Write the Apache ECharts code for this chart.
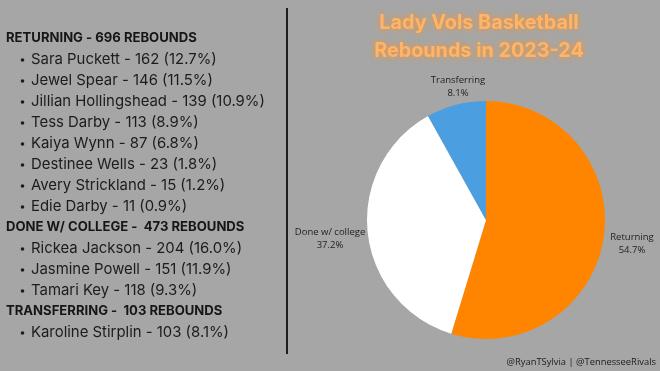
<!DOCTYPE html>
<html><head><meta charset="utf-8">
<script src="https://cdn.jsdelivr.net/npm/echarts@6/dist/echarts.min.js"></script>
<style>html,body{margin:0;padding:0;background:#a6a6a6;}#c{width:660px;height:371px;}</style>
</head><body><div id="c"></div>
<script>
const groupNames = ['RETURNING', 'DONE W/ COLLEGE', 'TRANSFERRING'];
const groupSep = [' - ', ' -  ', ' -  '];
const pieLabels = ['Returning', 'Done w/ college', 'Transferring'];
const returningPlayers = ['Sara Puckett', 'Jewel Spear', 'Jillian Hollingshead', 'Tess Darby', 'Kaiya Wynn', 'Destinee Wells', 'Avery Strickland', 'Edie Darby'];
const returningValues = [162, 146, 139, 113, 87, 23, 15, 11];
const donePlayers = ['Rickea Jackson', 'Jasmine Powell', 'Tamari Key'];
const doneValues = [204, 151, 118];
const transferPlayers = ['Karoline Stirplin'];
const transferValues = [103];
const pieColors = ['#ff8500', '#ffffff', '#4b9fe0'];

const groups = [[returningPlayers, returningValues], [donePlayers, doneValues], [transferPlayers, transferValues]];
const sum = a => a.reduce((s, v) => s + v, 0);
const groupTotals = groups.map(g => sum(g[1]));
const grand = sum(groupTotals);

const graphics = [];
let y = 38.5;
const step = 21.0;
groups.forEach((g, gi) => {
  graphics.push({type: 'text', x: 6, y: y, style: {text: groupNames[gi] + groupSep[gi] + groupTotals[gi] + ' REBOUNDS', font: 'bold 13.1px Inter', fill: '#161616', verticalAlign: 'middle'}});
  y += step;
  g[0].forEach((name, i) => {
    const v = g[1][i];
    graphics.push({type: 'circle', shape: {cx: 22.5, cy: y + 0.5, r: 1.8}, style: {fill: '#1c1c1c'}});
    graphics.push({type: 'text', x: 31, y: y, style: {text: name + ' - ' + v + ' (' + (v / grand * 100).toFixed(1) + '%)', font: '14.9px Inter', fill: '#1c1c1c', verticalAlign: 'middle'}});
    y += step;
  });
});
graphics.push({type: 'line', shape: {x1: 287, y1: 8, x2: 287, y2: 354}, style: {stroke: '#1e1e1e', lineWidth: 2}});
graphics.push({type: 'text', x: 656, y: 362, style: {text: '@RyanTSylvia | @TennesseeRivals', font: '9.4px "Open Sans"', fill: '#1c1c1c', align: 'right', verticalAlign: 'middle'}});

const labelPos = [[632, 244], [330, 239], [458, 87]];

const chart = echarts.init(document.getElementById('c'));
chart.setOption({
  backgroundColor: '#a6a6a6',
  animation: false,
  title: {
    text: 'Lady Vols Basketball\nRebounds in 2023-24',
    left: 474, top: 4, textAlign: 'center',
    textStyle: {color: '#ffb468', fontFamily: 'Inter', fontWeight: 'bold', fontSize: 19.8, lineHeight: 28,
      textShadowColor: '#ff9326', textShadowBlur: 6}
  },
  graphic: graphics,
  series: [{
    type: 'pie',
    center: [486, 220],
    radius: [0, 119],
    startAngle: 90,
    clockwise: true,
    data: pieLabels.map((n, i) => ({name: n, value: groupTotals[i], itemStyle: {color: pieColors[i]}})),
    label: {
      show: true, position: 'outside', color: '#222', fontFamily: 'Open Sans', fontSize: 9.5, lineHeight: 13,
      overflow: 'none',
      formatter: p => p.name + '\n' + p.percent.toFixed(1) + '%', align: 'center'
    },
    labelLine: {show: false, length: 6, length2: 0},
    labelLayout: p => ({x: labelPos[p.dataIndex][0], y: labelPos[p.dataIndex][1], align: 'center', verticalAlign: 'middle'}),
    emphasis: {disabled: true}
  }]
});
</script></body></html>
